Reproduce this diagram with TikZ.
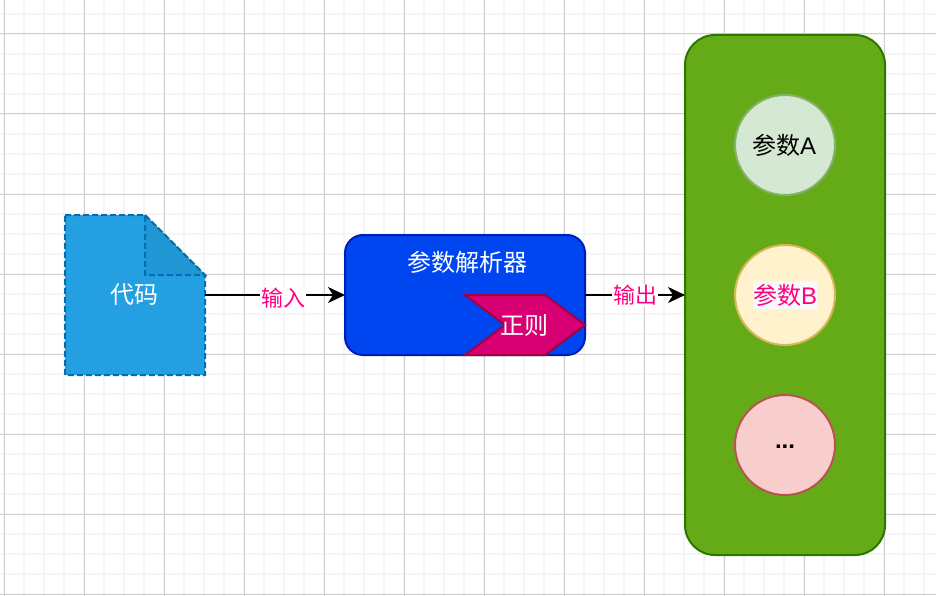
\documentclass[tikz,border=0pt]{standalone}
\usepackage{fontspec}
\usepackage{xcolor}
\newfontfamily\latin{Liberation Sans}
\newfontfamily\cjk{Noto Sans CJK SC}
\usetikzlibrary{arrows.meta,positioning,calc}
\definecolor{minorgrid}{RGB}{245,245,245}
\definecolor{majorgrid}{RGB}{208,208,208}
\definecolor{docblue}{RGB}{36,160,226}
\definecolor{docline}{RGB}{0,110,175}
\definecolor{foldblue}{RGB}{33,150,212}
\definecolor{parserblue}{RGB}{0,70,240}
\definecolor{parserline}{RGB}{0,29,188}
\definecolor{regexpink}{RGB}{216,0,115}
\definecolor{regexline}{RGB}{165,0,64}
\definecolor{panelgreen}{RGB}{101,171,24}
\definecolor{panelline}{RGB}{45,118,0}
\definecolor{labelpink}{RGB}{255,0,128}
\definecolor{labelback}{RGB}{248,249,250}
\definecolor{afill}{RGB}{213,232,212}
\definecolor{aline}{RGB}{130,179,102}
\definecolor{bfill}{RGB}{255,242,204}
\definecolor{bline}{RGB}{214,182,86}
\definecolor{cfill}{RGB}{248,206,204}
\definecolor{cline}{RGB}{184,84,80}

\begin{document}
\begin{tikzpicture}[x=1pt, y=-1pt, outer sep=0pt,
font=\fontsize{24}{28}\selectfont\cjk,
circ/.style={circle, line width=2pt, minimum size=100pt, inner sep=0pt},
docdash/.style={draw=docline, dash pattern=on 6pt off 3pt, line width=2pt},
arrow/.style={-{Stealth[length=17pt, width=16pt, inset=5pt]}, line width=2pt, black},
edgelabel/.style={fill=white, text=labelpink, inner sep=1pt, font=\fontsize{22}{26}\selectfont\cjk}]
\useasboundingbox (0,0) rectangle (936,596);
\foreach \x in {4,24,...,924} \draw[minorgrid, line width=2pt] (\x,0)--(\x,596);
\foreach \y in {14,34,...,594} \draw[minorgrid, line width=2pt] (0,\y)--(936,\y);
\foreach \x in {4,84,...,924} \draw[majorgrid, line width=1pt] (\x,0)--(\x,596);
\foreach \y in {34,114,...,594} \draw[majorgrid, line width=1pt] (0,\y)--(936,\y);

\coordinate (codemid) at (135,295);
\draw[docdash, fill=docblue] ($(codemid)+(-70,-80)$) -- ($(codemid)+(10,-80)$) -- ($(codemid)+(70,-20)$) -- ($(codemid)+(70,80)$) -- ($(codemid)+(-70,80)$) -- cycle;
\draw[docdash, fill=foldblue] ($(codemid)+(10,-80)$) -- ($(codemid)+(70,-20)$) -- ($(codemid)+(10,-20)$) -- cycle;
\node[minimum width=140pt, minimum height=160pt, inner sep=0pt, text=white] (code) at (codemid) {\hspace{-2pt}代码};
\node[draw=parserline, fill=parserblue, rounded corners=18pt, line width=2pt, minimum width=240pt, minimum height=120pt, right=140pt of code] (parser) {};
\node[text=white, below=13pt of parser.north, xshift=2pt] (title) {参数解析器};
\coordinate (regexmid) at ($(parser.east)+(-60,30)$);
\draw[draw=regexline, fill=regexpink, line width=2pt] ($(regexmid)+(-60,-30)$) -- ($(regexmid)+(20,-30)$) -- ($(regexmid)+(60,0)$) -- ($(regexmid)+(20,30)$) -- ($(regexmid)+(-60,30)$) -- ($(regexmid)+(-20,0)$) -- cycle;
\node[text=white, xshift=-1pt] (regex) at (regexmid) {正则};
\node[draw=panelline, fill=panelgreen, rounded corners=30pt, line width=2pt, minimum width=200pt, minimum height=520pt, right=100pt of parser] (panel) {};
\node[circ, draw=bline, fill=bfill] (paramb) at (panel) {\fboxsep=0pt\colorbox{labelback}{\rule[-5pt]{0pt}{28pt}\textcolor{labelpink}{参数{\latin B}}}};
\node[circ, draw=aline, fill=afill, above=50pt of paramb] (parama) {\hspace{-2pt}参数{\latin A}};
\node[circ, draw=cline, fill=cfill, below=50pt of paramb] (paramc) {\smash{\raisebox{-3pt}{\latin\bfseries ...}}};
\draw[arrow] (code)--node[edgelabel, pos=0.56, yshift=-3pt] (inlabel) {输入} (parser);
\draw[arrow] (parser)--node[edgelabel] (outlabel) {输出} (panel);
\end{tikzpicture}
\end{document}
